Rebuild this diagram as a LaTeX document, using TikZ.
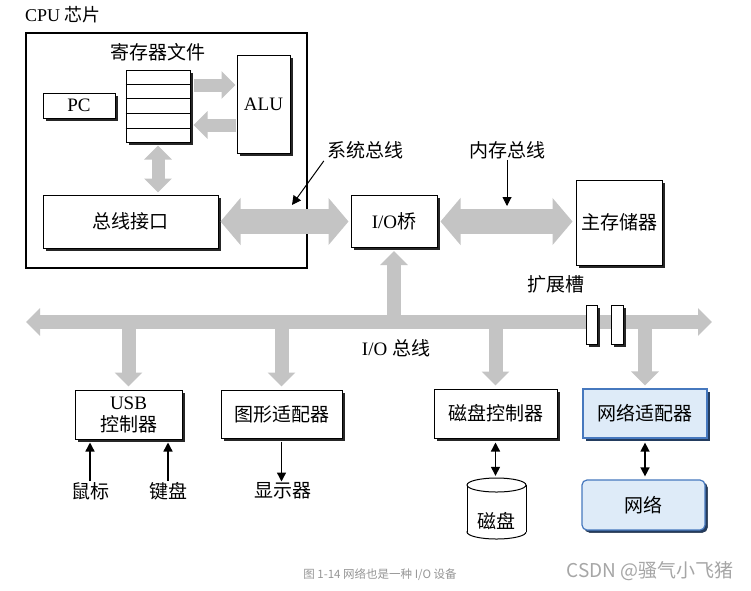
\documentclass[tikz,border=0pt]{standalone}
\usepackage{fontspec}
\setmainfont{Liberation Serif}
\newfontfamily\cjk{Noto Sans CJK SC}
\newcommand\zh[1]{{\cjk #1}}
\usetikzlibrary{arrows.meta,shadows,calc}
\definecolor{fatgray}{RGB}{196,196,196}
\definecolor{netfill}{RGB}{222,235,248}
\definecolor{netdraw}{RGB}{70,120,190}
\definecolor{capgray}{RGB}{150,150,150}
\begin{document}
\begin{tikzpicture}[x=1pt,y=-1pt,
  txt/.style={font=\fontsize{19}{23}\selectfont, inner sep=1pt},
  box/.style={draw, line width=1pt, fill=white, inner sep=0pt, align=center,
    font=\fontsize{19}{23}\selectfont,
    drop shadow={shadow xshift=2.5pt,shadow yshift=-2.5pt,fill=black!85,opacity=1}},
  netbox/.style={box, draw=netdraw, fill=netfill, line width=1.2pt,
    drop shadow={shadow xshift=2.5pt,shadow yshift=-2.5pt,fill=netdraw!50!black,opacity=1}},
  fatS/.style={line width=13pt, draw=fatgray},
  fatM/.style={line width=25pt, draw=fatgray},
  tipS/.tip={Triangle[length=14pt,width=27pt]},
  tipM/.tip={Triangle[length=20pt,width=46pt]},
  thin/.style={line width=1.4pt, draw=black},
  tipT/.tip={Triangle[length=9pt,width=9pt]},
]
\useasboundingbox[fill=white] (0,0) rectangle (751,590);

% CPU chip
\node[anchor=west, font=\fontsize{18}{20}\selectfont, inner sep=0] (cputitle) at (25,15) {CPU \zh{芯片}};
\node[draw, line width=1.6pt, minimum width=281pt, minimum height=235pt, inner sep=0] (cpu) at (166.5,150.5) {};
\node[txt] (regt) at (158,52) {\zh{寄存器文件}};
\node[box, minimum width=64pt, minimum height=72pt] (reg) at (158,106) {};
\foreach \f in {0.2,0.4,0.6,0.8}
  \draw[line width=0.8pt] ($(reg.north west)!\f!(reg.south west)$) -- ($(reg.north east)!\f!(reg.south east)$);
\node[box, minimum width=72pt, minimum height=25pt] (pc) at (79,105.5) {PC};
\node[box, minimum width=53pt, minimum height=98pt] (alu) at (263.5,104) {ALU};
\node[box, minimum width=175pt, minimum height=53pt] (bif) at (130.5,221.5) {\zh{总线接口}};

% bridge and memory
\node[box, minimum width=86pt, minimum height=52pt] (bridge) at (394,221.5) {I/O\zh{桥}};
\node[box, minimum width=86pt, minimum height=85pt] (mem) at (619,222.5) {\zh{主存储器}};

% devices
\node[box, minimum width=107pt, minimum height=49pt] (usb) at (128.5,414.5) {USB\\[-1pt]\zh{控制器}};
\node[box, minimum width=121pt, minimum height=48pt] (gfx) at (281.5,414) {\zh{图形适配器}};
\node[box, minimum width=123pt, minimum height=49pt] (dctl) at (495.5,413.5) {\zh{磁盘控制器}};
\node[netbox, minimum width=124pt, minimum height=49pt] (nad) at (645,413.5) {\zh{网络适配器}};
\node[netbox, rounded corners=5pt, minimum width=123pt, minimum height=50pt] (net) at (643.5,505) {\zh{网络}};

% disk (cylinder)
\node[inner sep=0, minimum width=59pt, minimum height=61pt] (disk) at (496.5,508.5) {};
\draw[line width=1pt, fill=white] (496.5,532) ellipse [x radius=29.5, y radius=7];
\fill[white] (467,485) rectangle (526,532);
\draw[line width=1pt] (467,485) -- (467,532) (526,485) -- (526,532);
\draw[line width=1pt, fill=white] (496.5,485) ellipse [x radius=29.5, y radius=7];
\node[txt] (disklbl) at (496.5,521) {\zh{磁盘}};

% fat arrows inside CPU
\draw[fatS, -tipS] ($(reg.east)+(3,-21)$) coordinate (ra) -- ($(ra -| alu.west)+(-1,0)$);
\draw[fatS, -tipS] ($(alu.west)+(-1,21)$) coordinate (ar) -- ($(ar -| reg.east)+(3,0)$);
\draw[fatS, tipS-tipS] ($(reg.south)+(0,3)$) -- ($(reg.south |- bif.north)+(0,-2)$);

% system bus and memory bus
\draw[fatM, tipM-tipM] ($(bif.east)+(2,0)$) -- ($(bif.east -| bridge.west)+(-2,0)$);
\draw[fatM, tipM-tipM] ($(bridge.east)+(3,0)$) -- ($(bridge.east -| mem.west)+(-3,0)$);

% I/O bus
\coordinate (busL) at (26,322);
\coordinate (busR) at (712,322);
\draw[fatS, line width=14pt, tipS-tipS] (busL) -- (busR);
\draw[fatS, line width=14pt, -tipS] (bridge.south |- busL) -- ($(bridge.south)+(0,3)$);
\foreach \d in {usb,gfx,dctl,nad}
  \draw[fatS, line width=14pt, -tipS] (\d.north |- busL) -- ($(\d.north)+(0,-3)$);

% expansion slots
\node[box, minimum width=11pt, minimum height=39pt, line width=0.9pt] (slot1) at (591.5,324.5) {};
\node[box, minimum width=12pt, minimum height=39pt, line width=0.9pt] (slot2) at (617,324.5) {};
\node[txt] (slotl) at (556,284) {\zh{扩展槽}};
\node[txt] (iobl) at (396,348) {I/O \zh{总线}};

% labels with pointers
\node[txt] (sysl) at (365,150) {\zh{系统总线}};
\coordinate (sysTip) at (292,205);
\draw[line width=1pt, -tipT] ($(sysl.south west)+(-2,1)$) -- (sysTip);
\node[txt] (meml) at (507,150) {\zh{内存总线}};
\coordinate (memTip) at (507,206);
\draw[line width=1pt, -tipT] (meml.south) -- (memTip);

% peripherals
\node[txt] (mouse) at (90,491) {\zh{鼠标}};
\node[txt] (kbd) at (168,491) {\zh{键盘}};
\node[txt] (disp) at (283,491) {\zh{显示器}};
\draw[thin, -tipT] (mouse.north) -- ($(mouse.north |- usb.south)+(0,3)$);
\draw[thin, -tipT] (kbd.north) -- ($(kbd.north |- usb.south)+(0,3)$);
\draw[thin, -tipT] ($(gfx.south)+(0,3)$) -- (gfx.south |- disp.north);
\draw[thin, tipT-tipT] ($(dctl.south)+(0,4)$) -- ($(dctl.south |- disk.north)+(0,-2)$);
\draw[thin, tipT-tipT] ($(nad.south)+(0,4)$) -- ($(nad.south |- net.north)+(0,-3)$);

% captions
\node[font=\cjk\fontsize{11.5}{13}\selectfont, text=capgray] (cap) at (380,575) {图 1-14 网络也是一种 I/O 设备};
\node[font=\cjk\fontsize{19}{21}\selectfont, text=capgray!85] (wm) at (650,571) {CSDN @骚气小飞猪};
\end{tikzpicture}
\end{document}
